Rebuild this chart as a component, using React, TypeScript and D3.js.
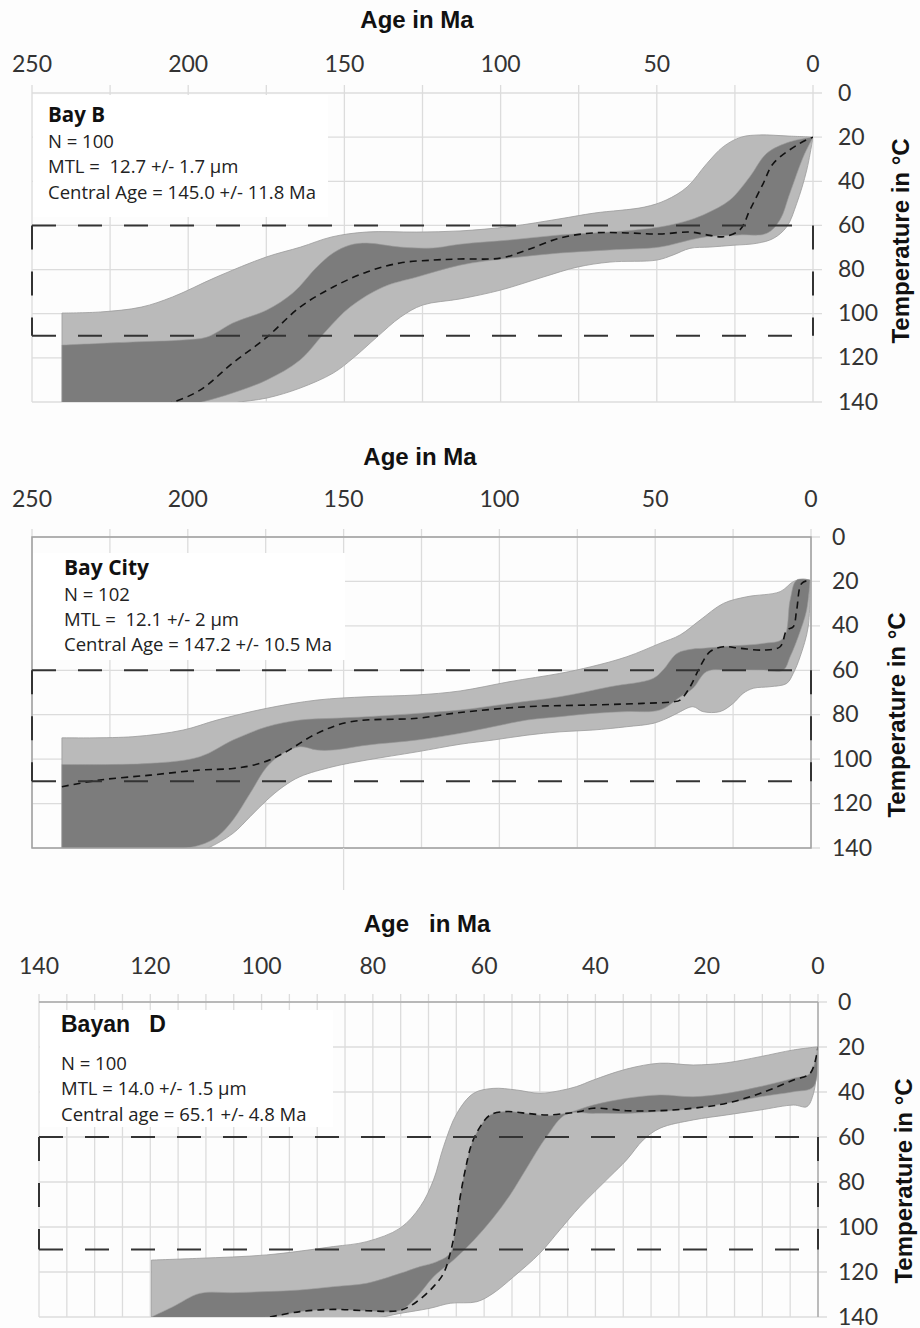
import React from 'react';
import * as d3 from 'd3';

type Pt = [number, number]; // [age in Ma, temperature in °C]

// ---- Bay B ----
const bayBAccTop: Pt[] = [
  [240.4, 99.7], [228, 99.2], [215, 97], [205, 92.4], [191, 83.4], [175, 74.3], [164, 69.8],
  [154, 65.2], [143, 63], [127, 63], [113, 62.5], [97, 60.5], [81, 57], [70, 54.4], [54, 51.7],
  [47, 48.5], [40.3, 42.6], [34, 32], [28.7, 24.3], [23, 20], [17, 19], [8, 19.5], [0, 20],
];
const bayBAccBottom: Pt[] = [
  [0, 20], [2, 34.9], [5.2, 50], [8.4, 60.6], [12.7, 65.9], [18, 68.1], [25.6, 69], [33, 69.8],
  [39.4, 70.4], [44.8, 73.4], [50, 75.7], [65, 76.6], [75.5, 78.9], [86.4, 83.4], [100, 89.3],
  [113, 93.3], [125, 96.1], [132, 101.5], [139.6, 110.6], [147.2, 120.1], [153.6, 126.9],
  [164.2, 133.7], [174.8, 138.2], [185.7, 140.5], [200, 145], [240.4, 148],
];
const bayBGoodTop: Pt[] = [
  [240.4, 114.2], [217.7, 112.8], [201.7, 111.9], [194, 110.6], [185.7, 104.2], [174.8, 98.3],
  [166.5, 90.6], [158.8, 78.8], [153.6, 72.5], [148.2, 68.9], [142.8, 68], [132.2, 69.8],
  [121.6, 70.2], [113, 68.5], [97, 66.6], [81, 64.3], [65, 63], [49, 60.7], [39.4, 57.5],
  [34, 54.5], [26.6, 48.5], [20.2, 37.9], [14.8, 27.3], [7.4, 22.1], [0, 20],
];
const bayBGoodBottom: Pt[] = [
  [0, 20], [3.1, 28.9], [7.4, 45.4], [10.6, 57.5], [14.8, 63.6], [23.4, 64.3], [34, 65.1],
  [39.4, 66.6], [49, 69.8], [65, 71.1], [81, 72.5], [97, 74.8], [113, 78], [126.8, 83.4],
  [137.6, 87.9], [148.2, 97], [155.6, 107.4], [164.2, 121], [174.8, 130], [185.7, 135.9],
  [197, 140.5], [215, 146], [240.4, 148],
];
const bayBBest: Pt[] = [
  [215, 143], [205.8, 140.5], [196.2, 134.6], [185.7, 122.3], [174.8, 110.6], [164.2, 97],
  [153.6, 87.9], [142.8, 81.1], [132.2, 77], [121.6, 75.7], [113, 75.2], [100, 74.8],
  [91.5, 71.1], [81, 65.7], [70.4, 63.4], [59.5, 63.4], [49, 63.9], [39.4, 63], [33, 64.5],
  [28.7, 65.1], [23.4, 62], [20.2, 53], [15.9, 40.9], [12.7, 31.9], [4.2, 22.8], [0, 20],
];

// ---- Bay City ----
const bayCityAccTop: Pt[] = [
  [240.4, 90.4], [217.6, 89.9], [201.5, 86.9], [190.6, 82.4], [174.6, 77.1], [158.5, 73.4],
  [142.5, 71.9], [126.4, 71.1], [112.6, 69.3], [96.6, 65.1], [80.6, 61.4], [70.6, 58.4],
  [59.1, 53.9], [48.5, 47.9], [42, 44.1], [35.6, 37.4], [28.1, 29.9], [20.6, 26.9],
  [9.9, 24.6], [5.7, 20.1], [2.5, 19], [0.3, 19.4],
];
const bayCityAccBottom: Pt[] = [
  [0.3, 19.4], [0.9, 40.4], [3.5, 53.9], [5.7, 61.4], [7.8, 65.9], [13.2, 67.4], [18.5, 68.1],
  [21.8, 70.4], [25, 74.9], [29.2, 78.6], [34.7, 78.6], [37.9, 76.4], [43, 79.4], [46.2, 81.6],
  [50.7, 83.9], [59.1, 85.4], [70, 86.9], [80.6, 87.7], [91.1, 89.2], [102, 91.4],
  [112.6, 93.3], [126.4, 96.7], [142.5, 100.4], [153.4, 103.4], [164, 107.9], [169.4, 112.4],
  [174.6, 118.4], [180, 125.9], [185.5, 133.4], [193.8, 140.2], [200, 143], [240.4, 145],
];
const bayCityGoodTop: Pt[] = [
  [240.4, 102.4], [212.1, 101.9], [196.1, 98.9], [185.5, 91.4], [174.6, 85.4], [164, 82.4],
  [153.4, 81.6], [142.5, 80.9], [126.4, 79.4], [112.6, 77.9], [96.6, 74.9], [80.6, 71.9],
  [64.5, 67.4], [50.7, 63.7], [47.5, 59.9], [43, 52.4], [37.9, 50.4], [34.6, 50.1], [26, 49.1],
  [15.3, 47.9], [8.9, 45.6], [6.7, 28.4], [4.6, 19.4], [0.3, 19.4],
];
const bayCityGoodBottom: Pt[] = [
  [0.3, 19.4], [1.4, 32.9], [4.1, 44.9], [6.7, 53.9], [8.9, 59.9], [15.3, 59.9], [26, 59.9],
  [33.5, 60.6], [37.8, 68], [42, 72], [48.5, 77.9], [59.1, 78.6], [70, 79.4], [80.6, 80.9],
  [91.1, 82.4], [102, 85.4], [112.6, 88.4], [126.4, 91.4], [142.5, 93.7], [153.4, 95.9],
  [158.5, 95.9], [164, 94.4], [169.4, 97.4], [174.6, 103.4], [180, 115.4], [185.5, 127.4],
  [190.6, 134.9], [196.1, 138.7], [206.7, 141], [240.4, 145],
];
const bayCityBest: Pt[] = [
  [240.4, 112.4], [228.2, 109.4], [212.1, 107.2], [196.1, 104.9], [185.5, 104.2],
  [176.8, 101.9], [169.4, 97.4], [158.5, 88.4], [147.9, 83.2], [126.4, 81.6], [112.6, 79],
  [91.1, 76.4], [70, 75.6], [53.9, 74.9], [44.3, 74.2], [42, 73.4], [38.8, 67.4], [35.6, 58.4],
  [32.4, 51.6], [28.1, 49.4], [22.8, 50.1], [15.3, 50.9], [9.9, 49.4], [7.8, 41.9],
  [5.7, 40.4], [4.6, 32.9], [3, 20.9], [0.3, 19.4],
];

// ---- Bayan D ----
const bayanAccTop: Pt[] = [
  [119.8, 114.7], [111.1, 113.9], [99.1, 112.4], [87.1, 108.7], [81.1, 106.5], [75.1, 100.5],
  [71.5, 91], [69.1, 79.1], [67.3, 64.3], [64.9, 49.5], [61.9, 40.6], [58.4, 38.4],
  [54.2, 39.1], [50, 40.6], [46.4, 39.4], [43.4, 37.6], [40.4, 34.7], [34.4, 29.8],
  [28.4, 27.2], [22.4, 28], [16.4, 27], [10.4, 24.3], [4.4, 21.3], [0, 19.9],
];
const bayanAccBottom: Pt[] = [
  [0, 19.9], [0.2, 28.8], [0.8, 40.6], [2, 46.5], [4.4, 45.8], [10.4, 48], [16.4, 50.2],
  [22.4, 52.4], [28.4, 56.1], [31.4, 61.3], [34.4, 70.2], [37.4, 77.6], [42.8, 91],
  [46.4, 101.3], [50, 111.7], [54.7, 122.1], [58.4, 129.5], [61.3, 133.2], [66.1, 133.9],
  [69.7, 136.1], [75.1, 138.4], [80, 140.5], [119.8, 140.5],
];
const bayanGoodTop: Pt[] = [
  [119.8, 140], [115.9, 135.4], [111.1, 129.5], [105.1, 129.2], [99.1, 128.7], [93.1, 128],
  [87.1, 126.5], [81.1, 125], [75.1, 120.6], [71.5, 117.6], [68.5, 115.4], [66.1, 111.7],
  [65.2, 101.3], [64.3, 86.5], [63.4, 74.7], [62.2, 62.8], [60.7, 55.4], [58.9, 50.2],
  [55.9, 48.7], [52.4, 49.5], [48.2, 50.5], [44.6, 49], [40.4, 45.8], [34.4, 42.8],
  [28.4, 41.3], [22.4, 42.1], [16.4, 40.6], [10.4, 37.6], [4.4, 33.9], [1.4, 31.7], [0, 19.9],
];
const bayanGoodBottom: Pt[] = [
  [0, 19.9], [0.8, 37.6], [4.4, 39.9], [10.4, 42.1], [16.4, 45], [22.4, 47.3], [28.4, 48.7],
  [34.4, 49.5], [40.4, 49.5], [45.2, 49.8], [48.8, 59.9], [52.4, 74], [55.4, 86], [58.4, 96],
  [61.9, 106], [65.5, 114.7], [69.1, 122.1], [72.1, 131], [75.1, 137], [81.1, 137.2],
  [87.1, 136.6], [93.1, 137.6], [98.5, 140], [119.8, 140.5],
];
const bayanBest: Pt[] = [
  [98.5, 140], [93.1, 137.6], [87.1, 136.6], [81.1, 137.2], [75.1, 137], [72.1, 133.2],
  [69.1, 126.5], [67.3, 120.6], [66.1, 111.7], [65.2, 101.3], [64.3, 86.5], [63.4, 74.7],
  [62.2, 62.8], [60.7, 55.4], [58.9, 50.2], [55.9, 48.7], [52.4, 49.5], [48.8, 50.2],
  [45.2, 49.5], [42.8, 48.7], [40.4, 47.2], [34.4, 48.3], [28.4, 48.3], [22.4, 47.2],
  [16.4, 45], [10.4, 40.6], [4.4, 34.7], [1.4, 31.7], [0, 19.9],
];

const tempTicks = [0, 20, 40, 60, 80, 100, 120, 140];
const ageTicks250 = [250, 200, 150, 100, 50, 0];
const ageTicks140 = [140, 120, 100, 80, 60, 40, 20, 0];
const targetWindow: [number, number] = [60, 110];

interface Panel {
  id: string;
  maxAge: number;
  xRange: [number, number];
  yRange: [number, number];
  ticks: number[];
  gridStep: number;
  title: string;
  titleX: number;
  titleY: number;
  tickLabelY: number;
  yLabelX: number;
  tempX: number;
  tempY: number;
  box: [number, number, number, number];
  infoX: number;
  infoY: number[];
  name: string;
  nameFont: string;
  nameSize: number;
  info: string[];
  border: 'none' | 'full' | 'topRight';
  accTop: Pt[];
  accBottom: Pt[];
  goodTop: Pt[];
  goodBottom: Pt[];
  best: Pt[];
}

const INFO_FONT = '"Open Sans", Lato, sans-serif';
const TICK_FONT = 'Lato, "Open Sans", sans-serif';
const BOLD_FONT = '"Liberation Sans", Arial, sans-serif';

const panels: Panel[] = [
  {
    id: 'bayb', maxAge: 250, xRange: [32, 813], yRange: [93, 402], ticks: ageTicks250, gridStep: 25,
    title: 'Age in Ma', titleX: 417, titleY: 28, tickLabelY: 72, yLabelX: 838, tempX: 909, tempY: 241,
    box: [32, 95, 328, 217], infoX: 48, infoY: [122, 148, 173, 199],
    name: 'Bay B', nameFont: INFO_FONT, nameSize: 20.5,
    info: ['N = 100', 'MTL =  12.7 +/- 1.7 µm', 'Central Age = 145.0 +/- 11.8 Ma'],
    border: 'none',
    accTop: bayBAccTop, accBottom: bayBAccBottom, goodTop: bayBGoodTop, goodBottom: bayBGoodBottom, best: bayBBest,
  },
  {
    id: 'baycity', maxAge: 250, xRange: [32, 811], yRange: [537, 848], ticks: ageTicks250, gridStep: 25,
    title: 'Age in Ma', titleX: 420, titleY: 465, tickLabelY: 507, yLabelX: 832, tempX: 905, tempY: 715,
    box: [32, 553, 345, 660], infoX: 64, infoY: [575, 601, 626, 651],
    name: 'Bay City', nameFont: INFO_FONT, nameSize: 21,
    info: ['N = 102', 'MTL =  12.1 +/- 2 µm', 'Central Age = 147.2 +/- 10.5 Ma'],
    border: 'full',
    accTop: bayCityAccTop, accBottom: bayCityAccBottom, goodTop: bayCityGoodTop, goodBottom: bayCityGoodBottom, best: bayCityBest,
  },
  {
    id: 'bayand', maxAge: 140, xRange: [39, 818], yRange: [1002, 1317], ticks: ageTicks140, gridStep: 5,
    title: 'Age   in Ma', titleX: 427, titleY: 932, tickLabelY: 974, yLabelX: 838, tempX: 912, tempY: 1181,
    box: [39, 1010, 333, 1127], infoX: 61, infoY: [1032, 1070, 1095, 1121],
    name: 'Bayan   D', nameFont: BOLD_FONT, nameSize: 23,
    info: ['N = 100', 'MTL = 14.0 +/- 1.5 µm', 'Central age = 65.1 +/- 4.8 Ma'],
    border: 'topRight',
    accTop: bayanAccTop, accBottom: bayanAccBottom, goodTop: bayanGoodTop, goodBottom: bayanGoodBottom, best: bayanBest,
  },
];

const GRID = '#dcdcdc';
const LIGHT = '#bababa';
const DARK = '#7c7c7c';
const EDGE = '#9a9a9a';

const PanelView: React.FC<{ p: Panel }> = ({ p }) => {
  const x = d3.scaleLinear().domain([p.maxAge, 0]).range(p.xRange);
  const y = d3.scaleLinear().domain([0, 140]).range(p.yRange);
  const [x0, x1] = p.xRange;
  const [y0, y1] = p.yRange;

  const line = d3.line<Pt>()
    .x(d => x(d[0]))
    .y(d => y(d[1]))
    .curve(d3.curveCatmullRom.alpha(0.5));

  // envelope outline: upper edge old->young, then lower edge young->old
  const band = (top: Pt[], bottom: Pt[]) => {
    const a = line(top)!;
    const b = line(bottom)!;
    return a + 'L' + b.slice(1) + 'Z';
  };

  const gridAges = d3.range(0, p.maxAge + 0.001, p.gridStep);
  const dash = '24 22';
  const clipId = `clip-${p.id}`;

  return (
    <g>
      <defs>
        <clipPath id={clipId}>
          <rect x={x0} y={y0} width={x1 - x0} height={y1 - y0} />
        </clipPath>
      </defs>

      {/* grid */}
      {gridAges.map(a => (
        <line key={`v${a}`} x1={x(a)} x2={x(a)} y1={y0 - 8} y2={y1} stroke={GRID} strokeWidth={1.3} />
      ))}
      {tempTicks.map(t => (
        <line key={`h${t}`} x1={x0} x2={x1 + 9} y1={y(t)} y2={y(t)} stroke={GRID} strokeWidth={1.3} />
      ))}

      {/* white box behind the sample info */}
      <rect x={p.box[0] + 1} y={p.box[1]} width={p.box[2] - p.box[0] - 1} height={p.box[3] - p.box[1]} fill="#fff" />

      {/* envelopes and best fit path */}
      <g clipPath={`url(#${clipId})`}>
        <path d={band(p.accTop, p.accBottom)} fill={LIGHT} stroke={EDGE} strokeWidth={0.8} />
        <path d={band(p.goodTop, p.goodBottom)} fill={DARK} stroke={EDGE} strokeWidth={0.6} />
        <path d={line(p.best)!} fill="none" stroke="#111" strokeWidth={1.6} strokeDasharray="7 5" />
      </g>

      {/* borders */}
      {p.border === 'full' && (
        <rect x={x0} y={y0} width={x1 - x0} height={y1 - y0} fill="none" stroke="#a0a0a0" strokeWidth={1.5} />
      )}
      {p.border === 'topRight' && (
        <g stroke="#a8a8a8" strokeWidth={1.4}>
          <line x1={x0} x2={x1} y1={y0} y2={y0} />
          <line x1={x1} x2={x1} y1={y0} y2={y1} />
        </g>
      )}
      {p.id === 'baycity' && (
        <line x1={x(150)} x2={x(150)} y1={y1} y2={y1 + 42} stroke={GRID} strokeWidth={1.3} />
      )}

      {/* 60–110 °C window */}
      <g stroke="#333" strokeWidth={2} strokeDasharray={dash} fill="none">
        <line x1={x0} x2={x1} y1={y(targetWindow[0])} y2={y(targetWindow[0])} />
        <line x1={x0} x2={x1} y1={y(targetWindow[1])} y2={y(targetWindow[1])} />
        <line x1={x0} x2={x0} y1={y(targetWindow[0])} y2={y(targetWindow[1])} />
        <line x1={x1} x2={x1} y1={y(targetWindow[0])} y2={y(targetWindow[1])} />
      </g>

      {/* axis labels */}
      <text x={p.titleX} y={p.titleY} textAnchor="middle" fontFamily={BOLD_FONT} fontWeight="bold"
        fontSize={24} fill="#111" style={{ whiteSpace: 'pre' }}>{p.title}</text>
      {p.ticks.map(a => (
        <text key={`xt${a}`} x={x(a)} y={p.tickLabelY} textAnchor="middle" fontFamily={TICK_FONT}
          fontSize={23} fill="#333">{a}</text>
      ))}
      {tempTicks.map(t => (
        <text key={`yt${t}`} x={p.yLabelX} y={y(t) + 7.5} fontFamily={TICK_FONT} fontSize={23} fill="#333">{t}</text>
      ))}
      <text transform={`translate(${p.tempX},${p.tempY}) rotate(-90)`} textAnchor="middle"
        fontFamily={BOLD_FONT} fontWeight="bold" fontSize={24} fill="#111">Temperature in °C</text>

      {/* sample info */}
      <text x={p.infoX} y={p.infoY[0]} fontFamily={p.nameFont} fontWeight="bold" fontSize={p.nameSize} fill="#111"
        style={{ whiteSpace: 'pre' }}>{p.name}</text>
      {p.info.map((s, i) => (
        <text key={s} x={p.infoX} y={p.infoY[i + 1]} fontFamily={INFO_FONT} fontSize={18.5} fill="#222"
          style={{ whiteSpace: 'pre' }}>{s}</text>
      ))}
    </g>
  );
};

const App: React.FC = () => (
  <svg width={920} height={1328} style={{ position: 'absolute', left: 0, top: 0, background: '#fdfdfd' }}>
    {panels.map(p => <PanelView key={p.id} p={p} />)}
  </svg>
);

export default App;
